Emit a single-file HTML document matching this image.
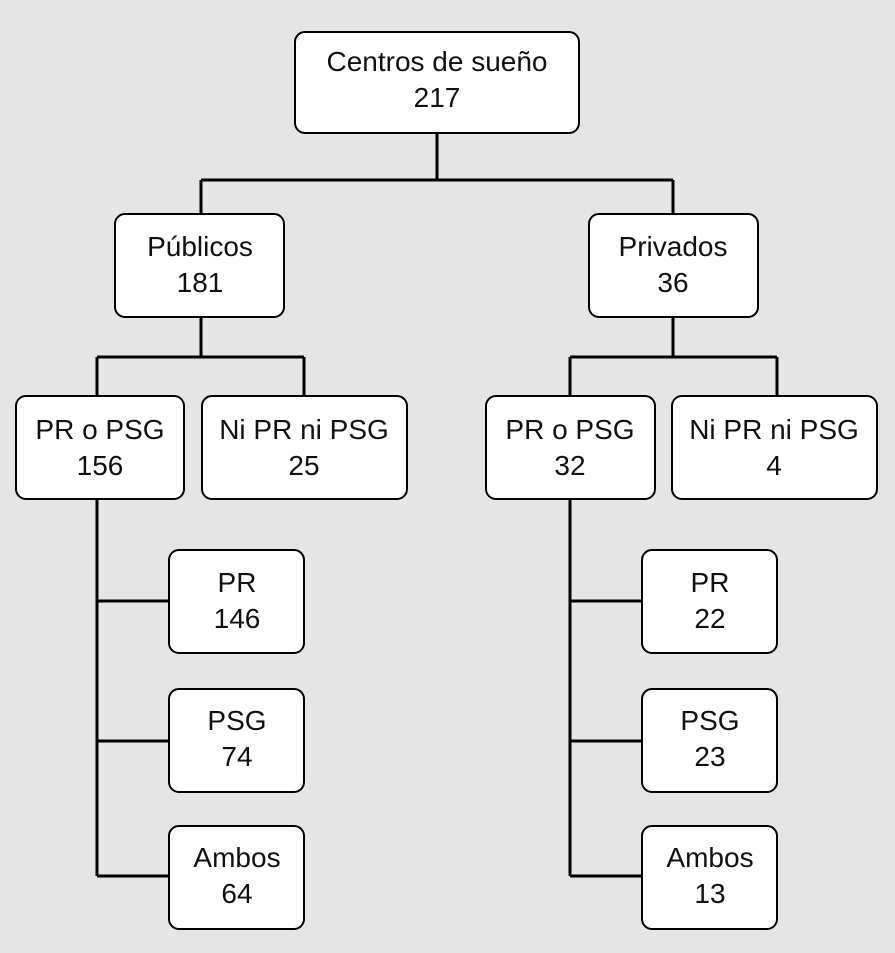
<!DOCTYPE html>
<html><head><meta charset="utf-8"><style>
html,body{margin:0;padding:0;background:#e5e5e5;}
svg{display:block}
text{font-family:"Liberation Sans",sans-serif;font-size:28px;fill:#111;text-anchor:middle}
</style></head><body>
<svg width="895" height="953" viewBox="0 0 895 953" xmlns="http://www.w3.org/2000/svg">
<rect width="895" height="953" fill="#e5e5e5"/>
<g stroke="#000" stroke-width="3" fill="none">
<path d="M437 133V180M201 180H673M201 180V214M673 180V214"/>
<path d="M201 317V357M97 357H304M97 357V396M304 357V396"/>
<path d="M673 317V357M570 357H777M570 357V396M777 357V396"/>
<path d="M97 499V876M97 601H169M97 741H169M97 876H169"/>
<path d="M570 499V876M570 601H642M570 741H642M570 876H642"/>
</g>
<g fill="#fff" stroke="#000" stroke-width="2">
<rect x="295" y="32" width="284" height="101" rx="10"/>
<rect x="115" y="214" width="169" height="103" rx="10"/>
<rect x="589" y="214" width="169" height="103" rx="10"/>
<rect x="16" y="396" width="168" height="103" rx="10"/>
<rect x="202" y="396" width="205" height="103" rx="10"/>
<rect x="486" y="396" width="169" height="103" rx="10"/>
<rect x="672" y="396" width="205" height="103" rx="10"/>
<rect x="169" y="550" width="135" height="103" rx="10"/>
<rect x="169" y="689" width="135" height="103" rx="10"/>
<rect x="169" y="826" width="135" height="103" rx="10"/>
<rect x="642" y="550" width="135" height="103" rx="10"/>
<rect x="642" y="689" width="135" height="103" rx="10"/>
<rect x="642" y="826" width="135" height="103" rx="10"/>
</g>
<text x="437" y="71">Centros de sueño</text><text x="437" y="107">217</text>
<text x="200" y="256">Públicos</text><text x="200" y="292">181</text>
<text x="673" y="256">Privados</text><text x="673" y="292">36</text>
<text x="100" y="439">PR o PSG</text><text x="100" y="475">156</text>
<text x="304" y="439">Ni PR ni PSG</text><text x="304" y="475">25</text>
<text x="570" y="439">PR o PSG</text><text x="570" y="475">32</text>
<text x="774" y="439">Ni PR ni PSG</text><text x="774" y="475">4</text>
<text x="237" y="592">PR</text><text x="237" y="628">146</text>
<text x="237" y="730">PSG</text><text x="237" y="766">74</text>
<text x="237" y="867">Ambos</text><text x="237" y="903">64</text>
<text x="710" y="592">PR</text><text x="710" y="628">22</text>
<text x="710" y="730">PSG</text><text x="710" y="766">23</text>
<text x="710" y="867">Ambos</text><text x="710" y="903">13</text>
</svg>
</body></html>
